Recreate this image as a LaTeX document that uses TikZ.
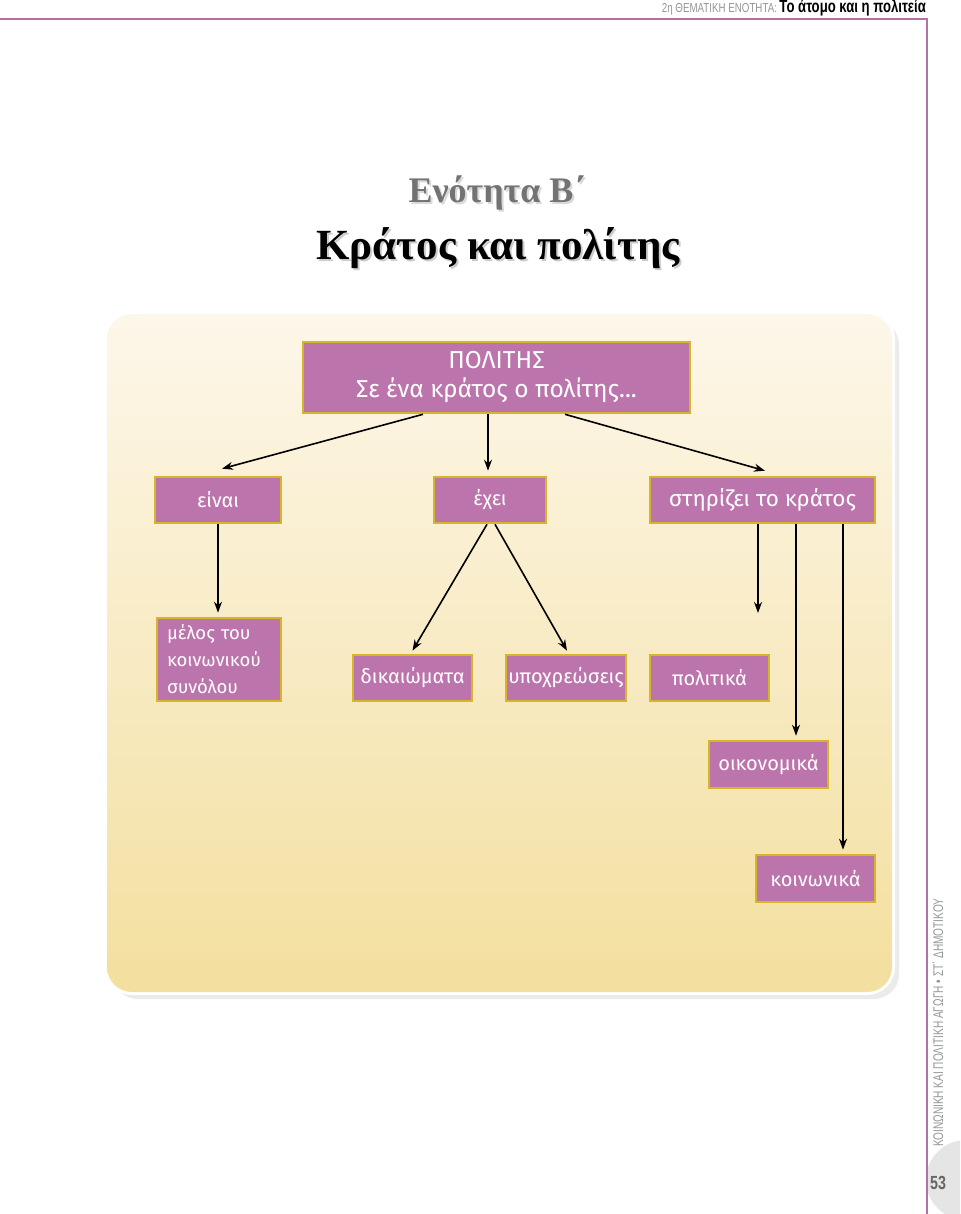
\documentclass[tikz,border=0pt]{standalone}
\usepackage{fontspec}
\setmainfont{Liberation Serif}
\newfontfamily\boxfont{Fira Sans}
\newfontfamily\condfont[FakeStretch=0.75]{Liberation Sans}
\newfontfamily\sidefont[FakeStretch=0.72]{Liberation Sans}
\usetikzlibrary{arrows.meta}
\definecolor{boxpurple}{RGB}{188,116,172}
\definecolor{boxgold}{RGB}{214,182,40}
\definecolor{pagepurple}{RGB}{180,112,168}
\definecolor{paneltop}{RGB}{253,247,234}
\definecolor{panelbot}{RGB}{243,223,158}
\definecolor{hdrgray}{RGB}{150,150,150}
\begin{document}
\begin{tikzpicture}[x=1pt,y=-1pt,
  cbox/.style={draw=boxgold, line width=2.6pt, fill=boxpurple, text=white,
    font=\boxfont\fontsize{20}{22}\selectfont, inner sep=0pt, align=center},
  arr/.style={-{Stealth[length=11pt,width=8pt]}, line width=1.6pt, black}]
% page
\fill[white] (0,0) rectangle (960,1214);
\useasboundingbox (0,0) rectangle (960,1214);
% page number disc
\begin{scope}
\clip (927,1100) rectangle (960,1214);
\fill[black!10] (966,1180) circle (40);
\end{scope}
% page frame
\draw[pagepurple, line width=1.8pt] (0,19) -- (927,19) -- (927,1214);
% header
\node[anchor=base east, inner sep=0pt] (hdr) at (926,13)
  {{\condfont\fontsize{13}{13}\selectfont\color{hdrgray}2η ΘΕΜΑΤΙΚΗ ΕΝΟΤΗΤΑ:} {\condfont\bfseries\fontsize{17.5}{17.5}\selectfont Το άτομο και η πολιτεία}};
% side text
\node[rotate=90, anchor=base west, inner sep=0pt] (side) at (943,1147)
  {\sidefont\fontsize{14}{14}\selectfont\color{hdrgray}ΚΟΙΝΩΝΙΚΗ ΚΑΙ ΠΟΛΙΤΙΚΗ ΑΓΩΓΗ • ΣΤ΄ ΔΗΜΟΤΙΚΟΥ};
\node[inner sep=0pt] (pnum) at (938,1183) {\condfont\bfseries\fontsize{19}{19}\selectfont\color{black!60}53};
% titles
\node[text=black!15] at (499,195) {\bfseries\fontsize{36}{36}\selectfont Ενότητα Β΄};
\node[text=black!55!white] (t1) at (497,193) {\bfseries\fontsize{36}{36}\selectfont Ενότητα Β΄};
\node[text=black!20] at (500,250) {\bfseries\fontsize{43}{43}\selectfont Κράτος και πολίτης};
\node[text=black] (t2) at (498,248) {\bfseries\fontsize{43}{43}\selectfont Κράτος και πολίτης};
% panel
\fill[black!8, rounded corners=25pt] (113,320) rectangle (899,999);
\draw[white, line width=6pt, rounded corners=25pt] (107,314) rectangle (892,992);
\shade[top color=paneltop, bottom color=panelbot, rounded corners=25pt] (107,314) rectangle (892,992);
% boxes
\node[cbox, minimum width=387pt, minimum height=71pt, font=\boxfont\fontsize{24.5}{29}\selectfont] (top) at (496.5,377.5) {ΠΟΛΙΤΗΣ\\Σε ένα κράτος ο πολίτης...};
\node[cbox, minimum width=126pt, minimum height=46pt] (einai) at (218,500) {είναι};
\node[cbox, minimum width=112pt, minimum height=46pt] (exei) at (490,500) {έχει};
\node[cbox, minimum width=225pt, minimum height=46pt, font=\boxfont\fontsize{22.5}{24}\selectfont] (stir) at (762.5,500) {στηρίζει το κράτος};
\node[cbox, minimum width=124pt, minimum height=83pt, text width=104pt, align=left, font=\boxfont\fontsize{18.5}{27}\selectfont] (melos) at (219,659.5) {μέλος του\\κοινωνικού\\συνόλου};
\node[cbox, minimum width=119pt, minimum height=46pt] (dik) at (412.5,678) {δικαιώματα};
\node[cbox, minimum width=120pt, minimum height=46pt] (ypo) at (566,678) {υποχρεώσεις};
\node[cbox, minimum width=119pt, minimum height=46pt] (pol) at (709.5,678) {πολιτικά};
\node[cbox, minimum width=119pt, minimum height=47pt] (oik) at (768.5,764.5) {οικονομικά};
\node[cbox, minimum width=119pt, minimum height=47pt] (koin) at (815.5,878.5) {κοινωνικά};
\coordinate (polend) at (758,613);
% arrows
\draw[arr] ([xshift=-73.5pt]top.south) -- ([xshift=4pt,yshift=7pt]einai.north);
\draw[arr] ([xshift=-8.5pt]top.south) -- ([xshift=-2pt,yshift=5pt]exei.north);
\draw[arr] ([xshift=68.5pt]top.south) -- ([xshift=2.5pt,yshift=5pt]stir.north);
\draw[arr] (einai.south) -- ([yshift=4pt]einai.south |- melos.north);
\draw[arr] ([xshift=-3pt]exei.south) -- ([yshift=3pt]dik.north);
\draw[arr] ([xshift=5pt]exei.south) -- ([xshift=1pt,yshift=3pt]ypo.north);
\draw[arr] ([xshift=-4.5pt]stir.south) -- (polend);
\draw[arr] ([xshift=33.5pt]stir.south) -- ([xshift=33.5pt,yshift=4pt]stir.south |- oik.north);
\draw[arr] ([xshift=80.5pt]stir.south) -- ([xshift=80.5pt,yshift=4pt]stir.south |- koin.north);
\end{tikzpicture}
\end{document}
